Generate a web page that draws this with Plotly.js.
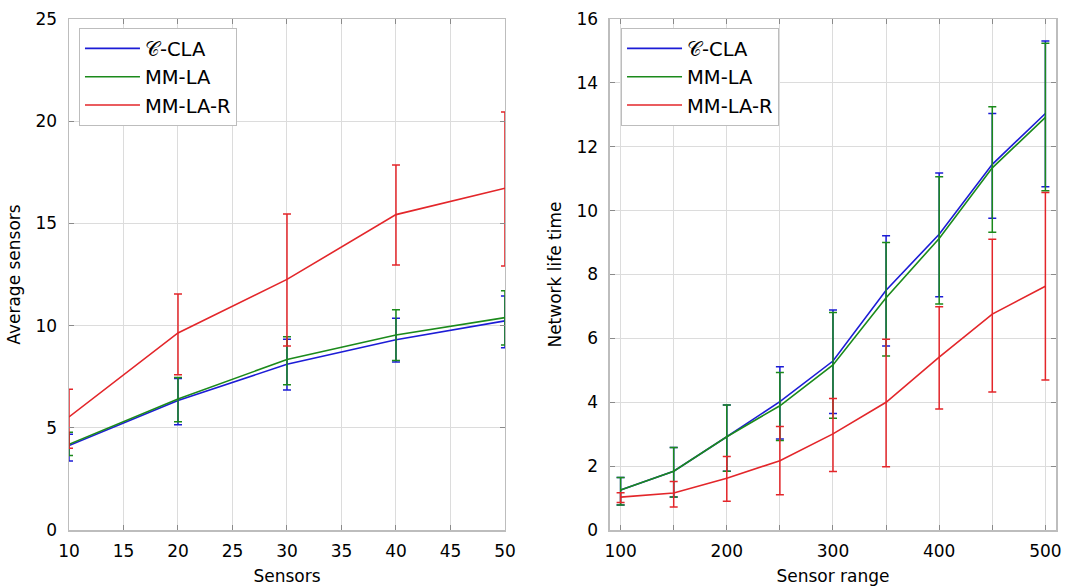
<!DOCTYPE html>
<html>
<head>
<meta charset="utf-8">
<script src="https://cdn.plot.ly/plotly-3.0.1.min.js"></script>
<style>html,body{margin:0;padding:0;background:#fff;}#chart{width:1068px;height:587px;}</style>
</head>
<body>
<div id="chart"></div>
<script>
// ---- Left panel: Average sensors vs Sensors ----
const sensors = [10, 20, 30, 40, 50];
const leftCCLA      = [4.13, 6.33, 8.11, 9.31, 10.23];
const leftCCLAUp    = [0.55, 1.08, 1.22, 1.05, 1.22];
const leftCCLADown  = [0.75, 1.18, 1.26, 1.09, 1.31];
const leftMMLA      = [4.19, 6.41, 8.34, 9.54, 10.39];
const leftMMLAUp    = [0.59, 1.05, 1.12, 1.23, 1.32];
const leftMMLADown  = [0.55, 1.11, 1.23, 1.25, 1.34];
const leftMMLAR     = [5.53, 9.64, 12.26, 15.43, 16.72];
const leftMMLARUp   = [1.35, 1.91, 3.20, 2.43, 3.73];
const leftMMLARDown = [1.53, 2.05, 3.26, 2.47, 3.80];

// ---- Right panel: Network life time vs Sensor range ----
const sensorRange = [100, 150, 200, 250, 300, 350, 400, 450, 500];
const rightCCLA      = [1.25, 1.84, 2.92, 4.02, 5.29, 7.51, 9.26, 11.45, 13.04];
const rightCCLAUp    = [0.39, 0.74, 0.99, 1.09, 1.60, 1.70, 1.92, 1.59, 2.27];
const rightCCLADown  = [0.47, 0.81, 1.08, 1.17, 1.64, 1.75, 1.96, 1.69, 2.29];
const rightMMLA      = [1.25, 1.84, 2.92, 3.89, 5.17, 7.27, 9.13, 11.34, 12.92];
const rightMMLAUp    = [0.39, 0.74, 0.99, 1.04, 1.64, 1.73, 1.93, 1.91, 2.32];
const rightMMLADown  = [0.47, 0.81, 1.08, 1.09, 1.67, 1.82, 2.05, 2.02, 2.30];
const rightMMLAR     = [1.03, 1.16, 1.62, 2.17, 3.01, 4.00, 5.41, 6.76, 7.63];
const rightMMLARUp   = [0.14, 0.36, 0.68, 1.07, 1.11, 1.97, 1.58, 2.34, 2.94];
const rightMMLARDown = [0.17, 0.44, 0.72, 1.07, 1.18, 2.02, 1.62, 2.44, 2.93];

const seriesNames = ['\u{1D49E}-CLA', 'MM-LA', 'MM-LA-R'];
const xTickLabelsRight = ['100', '', '200', '', '300', '', '400', '', '500'];
const colors = ['#1c1cd6', '#1b8a1b', '#e3262a'];

function tr(x, y, up, down, i, xa, ya, leg) {
  return {
    x: x, y: y, type: 'scatter', mode: 'lines', name: seriesNames[i],
    xaxis: xa, yaxis: ya, legend: leg,
    line: {color: colors[i], width: 1.6},
    error_y: {type: 'data', symmetric: false, array: up, arrayminus: down,
              color: colors[i], thickness: 1.5, width: 4}
  };
}

const data = [
  tr(sensors, leftCCLA, leftCCLAUp, leftCCLADown, 0, 'x', 'y', 'legend'),
  tr(sensors, leftMMLA, leftMMLAUp, leftMMLADown, 1, 'x', 'y', 'legend'),
  tr(sensors, leftMMLAR, leftMMLARUp, leftMMLARDown, 2, 'x', 'y', 'legend'),
  tr(sensorRange, rightCCLA, rightCCLAUp, rightCCLADown, 0, 'x2', 'y2', 'legend2'),
  tr(sensorRange, rightMMLA, rightMMLAUp, rightMMLADown, 1, 'x2', 'y2', 'legend2'),
  tr(sensorRange, rightMMLAR, rightMMLARUp, rightMMLARDown, 2, 'x2', 'y2', 'legend2')
];

const FF = 'DejaVu Sans, sans-serif';
const axBase = {
  showgrid: true, gridcolor: '#dcdcdc', gridwidth: 1,
  showline: true, linecolor: '#bdbdbd', linewidth: 1.5, mirror: 'ticks',
  ticks: 'inside', ticklen: 5, tickcolor: '#8a8a8a', tickwidth: 1,
  zeroline: false, automargin: false, tickfont: {family: FF, size: 17, color: '#000'}
};
const titleFont = {family: FF, size: 17, color: '#000'};
const legFont = {family: FF, size: 19.5, color: '#000'};

const layout = {
  width: 1068, height: 587,
  margin: {l: 69, r: 12, t: 19, b: 57},
  paper_bgcolor: '#fff', plot_bgcolor: '#fff',
  font: {family: FF, size: 17, color: '#000'},
  showlegend: true,
  xaxis: Object.assign({}, axBase, {domain: [0, 0.4417], range: [10, 50], dtick: 5, anchor: 'y',
    ticklabelstandoff: 5,
    title: {text: 'Sensors', font: titleFont, standoff: 10}}),
  yaxis: Object.assign({}, axBase, {domain: [0, 1], range: [0, 25], dtick: 5, anchor: 'x',
    ticklabelstandoff: 7,
    title: {text: 'Average sensors', font: titleFont, standoff: 10}}),
  xaxis2: Object.assign({}, axBase, {domain: [0.5481, 1], range: [90, 510],
    tickvals: sensorRange, ticktext: xTickLabelsRight, anchor: 'y2',
    ticklabelstandoff: 5,
    title: {text: 'Sensor range', font: titleFont, standoff: 10}}),
  yaxis2: Object.assign({}, axBase, {domain: [0, 1], range: [0, 16], dtick: 2, anchor: 'x2',
    ticklabelstandoff: 7,
    title: {text: 'Network life time', font: titleFont, standoff: 10}}),
  legend: {x: 0.0101, y: 0.982, xanchor: 'left', yanchor: 'top', bgcolor: '#fff',
    bordercolor: '#bdbdbd', borderwidth: 1, font: legFont, itemwidth: 55},
  legend2: {x: 0.5593, y: 0.982, xanchor: 'left', yanchor: 'top', bgcolor: '#fff',
    bordercolor: '#bdbdbd', borderwidth: 1, font: legFont, itemwidth: 55}
};

Plotly.newPlot('chart', data, layout, {displayModeBar: false, staticPlot: true});
</script>
</body>
</html>
